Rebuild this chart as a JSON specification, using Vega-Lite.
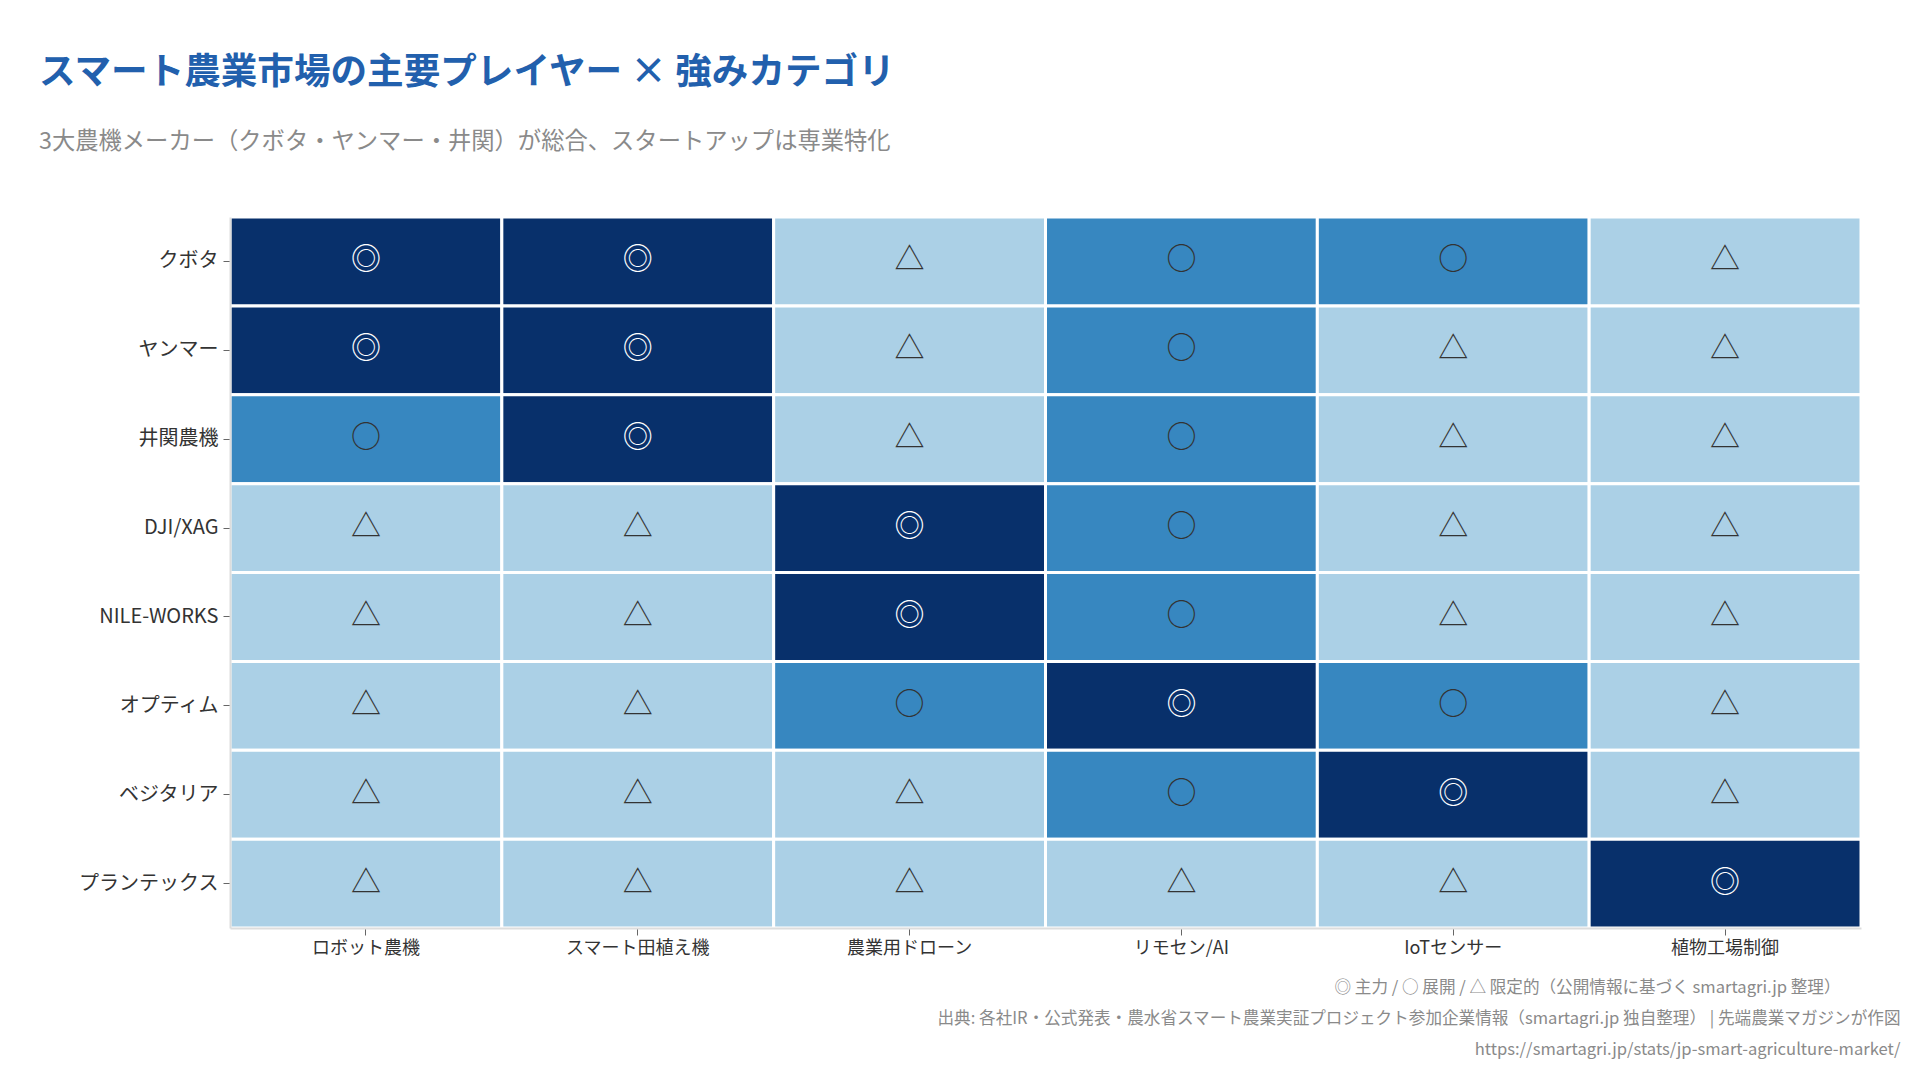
{
  "$schema": "https://vega.github.io/schema/vega-lite/v6.json",
  "autosize": {"type": "none"},
  "width": 1631,
  "height": 711,
  "padding": {"left": 230, "top": 217, "right": 59, "bottom": 152},
  "background": "white",
  "config": {
    "font": "Noto Sans CJK JP",
    "view": {"stroke": null}
  },
  "title": {
    "text": "スマート農業市場の主要プレイヤー × 強みカテゴリ",
    "subtitle": "3大農機メーカー（クボタ・ヤンマー・井関）が総合、スタートアップは専業特化",
    "anchor": "start",
    "frame": "group",
    "dx": -191,
    "offset": 62.5,
    "fontSize": 36.6,
    "fontWeight": "bold",
    "color": "#2260ad",
    "subtitleFontSize": 23.3,
    "subtitleColor": "#8a8a8a",
    "subtitlePadding": 39.5
  },
  "data": {
    "values": [
      {"player": "クボタ", "category": "ロボット農機", "level": "◎"},
      {"player": "クボタ", "category": "スマート田植え機", "level": "◎"},
      {"player": "クボタ", "category": "農業用ドローン", "level": "△"},
      {"player": "クボタ", "category": "リモセン/AI", "level": "○"},
      {"player": "クボタ", "category": "IoTセンサー", "level": "○"},
      {"player": "クボタ", "category": "植物工場制御", "level": "△"},
      {"player": "ヤンマー", "category": "ロボット農機", "level": "◎"},
      {"player": "ヤンマー", "category": "スマート田植え機", "level": "◎"},
      {"player": "ヤンマー", "category": "農業用ドローン", "level": "△"},
      {"player": "ヤンマー", "category": "リモセン/AI", "level": "○"},
      {"player": "ヤンマー", "category": "IoTセンサー", "level": "△"},
      {"player": "ヤンマー", "category": "植物工場制御", "level": "△"},
      {"player": "井関農機", "category": "ロボット農機", "level": "○"},
      {"player": "井関農機", "category": "スマート田植え機", "level": "◎"},
      {"player": "井関農機", "category": "農業用ドローン", "level": "△"},
      {"player": "井関農機", "category": "リモセン/AI", "level": "○"},
      {"player": "井関農機", "category": "IoTセンサー", "level": "△"},
      {"player": "井関農機", "category": "植物工場制御", "level": "△"},
      {"player": "DJI/XAG", "category": "ロボット農機", "level": "△"},
      {"player": "DJI/XAG", "category": "スマート田植え機", "level": "△"},
      {"player": "DJI/XAG", "category": "農業用ドローン", "level": "◎"},
      {"player": "DJI/XAG", "category": "リモセン/AI", "level": "○"},
      {"player": "DJI/XAG", "category": "IoTセンサー", "level": "△"},
      {"player": "DJI/XAG", "category": "植物工場制御", "level": "△"},
      {"player": "NILE-WORKS", "category": "ロボット農機", "level": "△"},
      {"player": "NILE-WORKS", "category": "スマート田植え機", "level": "△"},
      {"player": "NILE-WORKS", "category": "農業用ドローン", "level": "◎"},
      {"player": "NILE-WORKS", "category": "リモセン/AI", "level": "○"},
      {"player": "NILE-WORKS", "category": "IoTセンサー", "level": "△"},
      {"player": "NILE-WORKS", "category": "植物工場制御", "level": "△"},
      {"player": "オプティム", "category": "ロボット農機", "level": "△"},
      {"player": "オプティム", "category": "スマート田植え機", "level": "△"},
      {"player": "オプティム", "category": "農業用ドローン", "level": "○"},
      {"player": "オプティム", "category": "リモセン/AI", "level": "◎"},
      {"player": "オプティム", "category": "IoTセンサー", "level": "○"},
      {"player": "オプティム", "category": "植物工場制御", "level": "△"},
      {"player": "ベジタリア", "category": "ロボット農機", "level": "△"},
      {"player": "ベジタリア", "category": "スマート田植え機", "level": "△"},
      {"player": "ベジタリア", "category": "農業用ドローン", "level": "△"},
      {"player": "ベジタリア", "category": "リモセン/AI", "level": "○"},
      {"player": "ベジタリア", "category": "IoTセンサー", "level": "◎"},
      {"player": "ベジタリア", "category": "植物工場制御", "level": "△"},
      {"player": "プランテックス", "category": "ロボット農機", "level": "△"},
      {"player": "プランテックス", "category": "スマート田植え機", "level": "△"},
      {"player": "プランテックス", "category": "農業用ドローン", "level": "△"},
      {"player": "プランテックス", "category": "リモセン/AI", "level": "△"},
      {"player": "プランテックス", "category": "IoTセンサー", "level": "△"},
      {"player": "プランテックス", "category": "植物工場制御", "level": "◎"}
    ]
  },
  "encoding": {
    "x": {
      "field": "category",
      "type": "nominal",
      "sort": ["ロボット農機", "スマート田植え機", "農業用ドローン", "リモセン/AI", "IoTセンサー", "植物工場制御"],
      "scale": {"paddingInner": 0, "paddingOuter": 0},
      "axis": {
        "labelAngle": 0,
        "labelFontSize": 18,
        "labelColor": "#333333",
        "labelPadding": 4,
        "tickSize": 7,
        "tickColor": "#666666",
        "domainColor": "#dddddd",
        "domainWidth": 2,
        "title": [
          "◎ 主力 / ○ 展開 / △ 限定的（公開情報に基づく smartagri.jp 整理）\u2800\u2800\u2800\u2800\u2800",
          "出典: 各社IR・公式発表・農水省スマート農業実証プロジェクト参加企業情報（smartagri.jp 独自整理） | 先端農業マガジンが作図",
          "https://smartagri.jp/stats/jp-smart-agriculture-market/"
        ],
        "titleAnchor": "end",
        "titleAlign": "right",
        "titleBaseline": "top",
        "titleX": 1670,
        "titleY": 51,
        "titleFontSize": 16.6,
        "titleFontWeight": "normal",
        "titleColor": "#8a8a8a",
        "titleLineHeight": 31
      }
    },
    "y": {
      "field": "player",
      "type": "nominal",
      "sort": ["クボタ", "ヤンマー", "井関農機", "DJI/XAG", "NILE-WORKS", "オプティム", "ベジタリア", "プランテックス"],
      "scale": {"paddingInner": 0, "paddingOuter": 0},
      "axis": {
        "title": null,
        "labelFontSize": 20,
        "labelColor": "#333333",
        "labelPadding": 5,
        "tickSize": 7,
        "tickColor": "#666666",
        "domainColor": "#dddddd",
        "domainWidth": 2
      }
    }
  },
  "layer": [
    {
      "mark": {"type": "rect", "stroke": "white", "strokeWidth": 3},
      "encoding": {
        "color": {
          "field": "level",
          "type": "nominal",
          "scale": {"domain": ["◎", "○", "△"], "range": ["#08306b", "#3787c0", "#abd0e6"]},
          "legend": null
        }
      }
    },
    {
      "mark": {"type": "text", "fontSize": 30, "baseline": "middle", "align": "center", "dy": -1},
      "encoding": {
        "text": {"field": "level"},
        "color": {
          "condition": {"test": "datum.level === '◎'", "value": "white"},
          "value": "#333333"
        }
      }
    }
  ]
}
